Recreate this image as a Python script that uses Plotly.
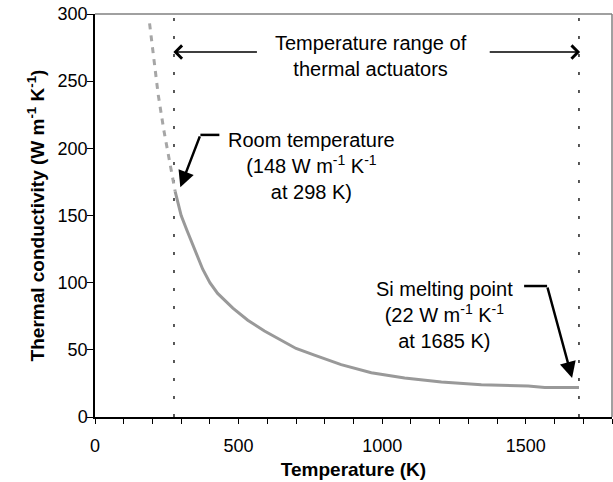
import plotly.graph_objects as go

# Extrapolated (dashed) part of the curve
temp_extrap = [190, 205, 220, 240, 260, 279]
k_extrap = [293, 265, 240, 213, 189, 168]

# Measured (solid) part of the curve
temp_meas = [279, 300, 320, 346, 375, 400, 427, 480, 532, 590, 648, 700, 764, 857, 962, 1078, 1206, 1345, 1508, 1566, 1685]
k_meas = [168, 150, 139, 125, 110, 100, 92, 81, 72, 64, 57, 51, 46, 39, 33, 29, 26, 24, 23, 22, 22]

# Range markers
range_lo = 275
range_hi = 1685

FONT = "Liberation Sans, Arial, sans-serif"
CURVE = "#999999"

fig = go.Figure()
fig.add_trace(go.Scatter(x=temp_extrap, y=k_extrap, mode="lines",
                         line=dict(color="#a6a6a6", width=3, dash="6px,6px"),
                         hoverinfo="skip", showlegend=False))
fig.add_trace(go.Scatter(x=temp_meas, y=k_meas, mode="lines",
                         line=dict(color=CURVE, width=3),
                         hoverinfo="skip", showlegend=False))

# dotted vertical lines
for xv in (range_lo, range_hi):
    fig.add_shape(type="line", xref="x", yref="y", x0=xv, x1=xv, y0=0, y1=300,
                  line=dict(color="#222222", width=1.5, dash="3px,15px"), layer="below")

# top/right border
fig.add_shape(type="line", xref="paper", yref="paper", x0=0, x1=1, y0=1, y1=1,
              line=dict(color="#808080", width=1.5))
fig.add_shape(type="line", xref="paper", yref="paper", x0=1, x1=1, y0=0, y1=1,
              line=dict(color="#808080", width=1.5))

# leader lines
fig.add_shape(type="line", xref="x", yref="y", x0=367, x1=433, y0=210, y1=210,
              line=dict(color="black", width=2.5))
fig.add_shape(type="line", xref="x", yref="y", x0=1494, x1=1574, y0=97.5, y1=97.5,
              line=dict(color="black", width=2.5))

ann_font = dict(family=FONT, size=20, color="black")
annotations = [
    dict(x=960, y=268.7, text="Temperature range of<br>thermal actuators", showarrow=False,
         font=ann_font, xref="x", yref="y"),
    dict(x=753, y=187, text="Room temperature<br>(148 W m<sup>-1</sup> K<sup>-1</sup><br>at 298 K)",
         showarrow=False, font=ann_font, xref="x", yref="y"),
    dict(x=1216, y=76, text="Si melting point<br>(22 W m<sup>-1</sup> K<sup>-1</sup><br>at 1685 K)",
         showarrow=False, font=ann_font, xref="x", yref="y"),
    # range arrows
    dict(x=273, y=271.7, ax=569, ay=271.7, xref="x", yref="y", axref="x", ayref="y",
         showarrow=True, arrowhead=4, arrowsize=1.7, arrowwidth=1.5, arrowcolor="black", text="",
         standoff=0),
    dict(x=1689, y=271.7, ax=1369, ay=271.7, xref="x", yref="y", axref="x", ayref="y",
         showarrow=True, arrowhead=4, arrowsize=1.7, arrowwidth=1.5, arrowcolor="black", text="",
         standoff=0),
    # pointer arrows
    dict(x=297, y=171, ax=367, ay=210, xref="x", yref="y", axref="x", ayref="y",
         showarrow=True, arrowhead=2, arrowsize=1.3, arrowwidth=2.5, arrowcolor="black", text="",
         standoff=0),
    dict(x=1661, y=29, ax=1574, ay=97.5, xref="x", yref="y", axref="x", ayref="y",
         showarrow=True, arrowhead=2, arrowsize=1.3, arrowwidth=2.5, arrowcolor="black", text="",
         standoff=0),
]

fig.update_layout(
    width=613, height=482,
    margin=dict(l=95, r=1, t=14, b=65, autoexpand=False),
    paper_bgcolor="white", plot_bgcolor="white",
    font=dict(family=FONT, size=18, color="black"),
    annotations=annotations,
    xaxis=dict(range=[0, 1800], dtick=500, tick0=0, showgrid=False, zeroline=False,
               automargin=False, ticklabeloverflow="allow", ticklabelstandoff=7,
               showline=True, linecolor="black", linewidth=1.5,
               ticks="outside", ticklen=5, tickwidth=1, tickcolor="black",
               tickfont=dict(size=18),
               minor=dict(dtick=100, ticks="outside", ticklen=5, tickcolor="black", showgrid=False),
               title=dict(text="<b>Temperature (K)</b>", font=dict(size=19), standoff=7)),
    yaxis=dict(range=[0, 300], dtick=50, tick0=0, showgrid=False, zeroline=False,
               automargin=False, ticklabeloverflow="allow", ticklabelstandoff=-4,
               showline=True, linecolor="black", linewidth=1.5,
               ticks="outside", ticklen=6, tickwidth=1, tickcolor="black",
               tickfont=dict(size=18),
               title=dict(text="<b>Thermal conductivity (W m<sup>-1</sup> K<sup>-1</sup>)</b>",
                          font=dict(size=19), standoff=8)),
)

# remove the default 8px page margin so the figure fills the window exactly
fig.write_html("out.html", config=dict(displayModeBar=False),
               post_script="document.body.style.margin='0';")
